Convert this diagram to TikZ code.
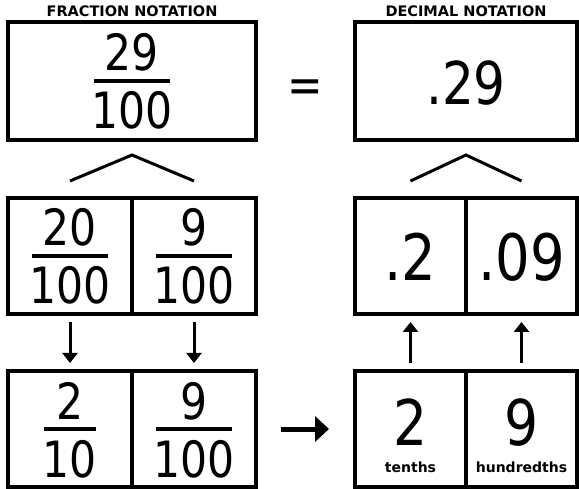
\documentclass[tikz,border=0pt]{standalone}
\usepackage{fontspec}
\setmainfont{DejaVu Sans}
\newfontfamily\numfont[FakeStretch=0.85]{DejaVu Sans}
\usepackage{tikz}
\usetikzlibrary{arrows.meta,calc}

\begin{document}
\begin{tikzpicture}[x=1pt, y=-1pt, line width=3pt,
    box/.style={draw, line width=3.5pt, minimum height=116pt, inner sep=0pt, outer sep=0pt},
    frnum/.style={anchor=base, inner sep=0pt, font=\numfont\fontsize{50}{50}\selectfont},
    decnum/.style={anchor=base, inner sep=0pt, font=\numfont\fontsize{#1}{#1}\selectfont},
    title/.style={anchor=base, inner sep=0pt, font=\bfseries\fontsize{14.5}{14.5}\selectfont},
    small/.style={anchor=base, inner sep=0pt, font=\bfseries\fontsize{14}{14}\selectfont},
    thin/.style={-{Triangle[width=15pt,length=10pt]}, line width=3pt,
                 shorten <=8pt, shorten >=8pt}]
  \useasboundingbox (0,0) rectangle (579,489);
  % top row
  \node[box, minimum width=248pt, minimum height=118pt] (fr) at (132,81) {};
  \node[box, minimum width=222pt, minimum height=118pt] (dec) at (466,81) {};
  \node[title] at ($(fr.north)+(0,-5)$) {FRACTION NOTATION};
  \node[title] at ($(dec.north)+(0,-5)$) {DECIMAL NOTATION};
  \node[decnum=50] (eq) at (305,103) {=};
  \node[decnum=59] at ($(dec.center)+(0,24)$) {.29};
  % split boxes
  \foreach \n/\x/\y/\w in {fl1/70/256/124, fl2/194/256/124, fb1/70/429/124, fb2/194/429/124,
                           dm1/410.5/256/111, dm2/521.5/256/111, db1/410.5/429/111, db2/521.5/429/111}{
    \node[box, minimum width=\w pt] (\n) at (\x,\y) {};}
  % fractions
  \foreach \c/\p/\q/\h in {fr/29/100/38, fl1/20/100/38, fl2/9/100/38, fb1/2/10/26, fb2/9/100/38}{
    \node[frnum] at ($(\c.center)+(0,-10)$) {\p};
    \node[frnum] at ($(\c.center)+(0,48)$) {\q};
    \draw[line width=3.5pt] ($(\c.center)+(-\h,0)$) -- ($(\c.center)+(\h,0)$);}
  % decimals
  \node[decnum=64] at ($(dm1.center)+(0,25)$) {.2};
  \node[decnum=64] at ($(dm2.center)+(0,25)$) {.09};
  \node[decnum=63] at ($(db1.center)+(0,16)$) {2};
  \node[decnum=63] at ($(db2.center)+(0,16)$) {9};
  \node[small] at ($(db1.center)+(0,43)$) {tenths};
  \node[small] at ($(db2.center)+(0,43)$) {hundredths};
  % carets
  \draw ($(fl1.north)+(0,-17)$) -- ($(fr.south)+(0,15)$) -- ($(fl2.north)+(0,-17)$);
  \draw ($(dm1.north)+(0,-17)$) -- ($(dec.south)+(0,15)$) -- ($(dm2.north)+(0,-17)$);
  % arrows
  \draw[thin] (fl1) -- (fb1);
  \draw[thin] (fl2) -- (fb2);
  \draw[thin] (db1) -- (dm1);
  \draw[thin] (db2) -- (dm2);
  \draw[-{Triangle[width=25pt,length=14pt]}, line width=5pt, yshift=-3pt,
        shorten <=25pt, shorten >=26pt] (fb2.east) -- (db1.west);
\end{tikzpicture}
\end{document}
